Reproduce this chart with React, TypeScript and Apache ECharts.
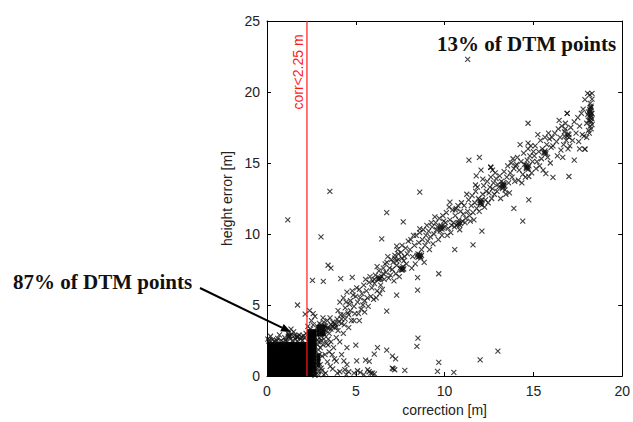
import React, { useEffect, useRef } from "react";
import * as echarts from "echarts";

// ---- data ----
const xTicks = [0, 5, 10, 15, 20];
const yTicks = [0, 5, 10, 15, 20, 25];
const threshold = 2.25;
const thresholdLabel = "corr<2.25 m";
const textUpper = "13% of DTM points";
const textLower = "87% of DTM points";
const xName = "correction [m]";
const yName = "height error [m]";

// saturated (solid black) regions of overlapping points: [[x0,y0],[x1,y1]]
const denseBlocks: [number, number][][] = [
  [[0, 0], [2.25, 2.4]],
  [[2.25, 0], [2.8, 3.3]],
  [[2.8, 2.8], [3.3, 3.6]],
  [[2.8, 0.6], [3.0, 1.6]],
];

const nearOriginPoints: [number, number][] = [
  [0.1, 2.45], [0.3, 2.55], [0.5, 2.4], [0.6, 2.65], [0.8, 2.5], [1.0, 2.7], [1.1, 2.45], [1.3, 2.6],
  [1.5, 3.1], [1.6, 2.6], [1.8, 2.9], [2.0, 2.5], [2.1, 2.7], [0.2, 2.8], [0.9, 2.4], [1.4, 2.9],
  [1.7, 2.45], [2.2, 3.0], [0.4, 2.45], [1.2, 3.0], [1.55, 2.85], [1.9, 2.6], [1.35, 3.3], [0.7, 2.9],
  [1.22, 2.9], [1.67, 2.8], [1.25, 2.75], [2.05, 2.85], [0.05, 2.6], [1.2, 2.8], [1.28, 2.85],
  [1.7, 2.7], [1.75, 2.75], [0.15, 2.55], [0.55, 2.5], [1.05, 2.5], [1.45, 2.5], [1.95, 2.75],
  [2.9, 0.3], [3.0, 0.8], [3.1, 1.4], [3.0, 2.0], [3.2, 2.6], [3.1, 3.3], [2.95, 3.7], [3.3, 0.2],
  [3.4, 1.0], [3.5, 1.7], [3.35, 2.3], [3.5, 3.0], [3.6, 3.6], [3.4, 3.9], [3.7, 0.5], [3.8, 1.2],
  [3.75, 2.0], [3.9, 2.7], [3.8, 3.4], [3.95, 4.0], [4.0, 3.2], [4.1, 0.3], [4.2, 1.5], [4.1, 2.4],
  [4.3, 3.0], [4.2, 3.7], [4.3, 4.3], [4.5, 0.8], [4.5, 2.0], [4.6, 3.4], [4.4, 4.0], [4.7, 4.6],
  [4.9, 3.9], [2.6, 3.6], [2.5, 3.9], [2.7, 4.2], [2.85, 3.45], [3.15, 4.1], [3.25, 3.55], [2.4, 4.6],
  [2.6, 4.4], [3.05, 2.5], [3.44, 2.17], [3.9, 1.05], [4.33, 1.07], [5.05, 1.07], [5.55, 1.12],
  [5.67, 0.44], [5.1, 0.37], [4.38, 0.44], [3.56, 0.68], [3.05, 0.56], [2.7, 0.05], [3.27, 1.5],
  [3.67, 1.5], [5.94, 0.2], [5.45, 0.1], [4.46, 0.1], [3.96, 0.2], [2.8, 1.37], [2.9, 1.84],
  [2.85, 2.2], [2.9, 3.0], [3.0, 3.5], [2.95, 2.7], [2.85, 2.55], [2.8, 0.9], [3.2, 3.8],
  [3.3, 3.2], [3.5, 3.35], [3.7, 3.8], [3.55, 4.1], [3.85, 3.65], [2.3, 3.5], [2.45, 3.3],
  [4.6, 0.3], [5.25, 0.25], [5.75, 0.3], [6.05, 0.15], [4.9, 0.2], [3.2, 0.1],
  [2.9, 3.3], [2.95, 3.4], [3.0, 3.2], [3.05, 3.6], [3.1, 3.45], [3.2, 3.3], [3.3, 3.5], [3.4, 3.4],
  [3.6, 3.3], [3.7, 3.5], [3.8, 3.7], [3.9, 3.45], [2.9, 1.0], [2.95, 1.5], [2.9, 2.4], [3.0, 2.9],
  [2.85, 0.5], [2.9, 0.1], [3.1, 0.4], [3.15, 2.2], [3.25, 2.9], [3.45, 2.6], [3.6, 2.4],
];

const bandPoints: [number, number][] = [
  [4.0, 4.6], [4.1, 5.2], [4.2, 4.0], [4.3, 5.5], [4.4, 4.8], [4.5, 5.9], [4.6, 4.3], [4.7, 5.3],
  [4.8, 6.0], [4.9, 4.9], [5.0, 5.6], [4.35, 3.6], [4.55, 4.45], [4.75, 3.9], [4.85, 5.7], [4.15, 4.3],
  [4.65, 5.05], [4.95, 4.4], [4.45, 5.2], [4.05, 3.8],
  [5.1, 5.2], [5.2, 6.1], [5.3, 4.7], [5.35, 5.8], [5.45, 6.4], [5.5, 5.3], [5.6, 6.0], [5.7, 4.9],
  [5.75, 6.6], [5.85, 5.6], [5.9, 6.2], [6.0, 5.4], [5.15, 4.4], [5.25, 5.5], [5.55, 6.8], [5.65, 5.5],
  [5.05, 6.2], [5.4, 5.0], [5.8, 7.0], [5.95, 6.7], [5.5, 4.5], [5.2, 3.9],
  [6.05, 6.5], [6.1, 7.1], [6.2, 6.0], [6.25, 6.8], [6.3, 7.4], [6.4, 6.4], [6.45, 7.0], [6.55, 7.6],
  [6.6, 6.8], [6.7, 7.3], [6.75, 8.0], [6.85, 6.9], [6.9, 7.6], [7.0, 8.2], [6.15, 5.5], [6.35, 5.8],
  [6.5, 6.1], [6.65, 7.9], [6.95, 7.1], [6.2, 7.7], [6.8, 8.4], [6.05, 6.8], [6.55, 7.2],
  [7.05, 7.5], [7.1, 8.0], [7.2, 8.5], [7.25, 7.2], [7.3, 7.8], [7.35, 8.9], [7.4, 8.2], [7.5, 7.6],
  [7.55, 8.7], [7.6, 9.2], [7.7, 8.1], [7.75, 8.4], [7.8, 9.0], [7.9, 8.6], [7.95, 9.5], [7.15, 6.7],
  [7.45, 7.0], [7.65, 7.5], [7.85, 7.9], [7.2, 8.3], [7.4, 8.6], [7.3, 8.1], [7.6, 8.3],
  [8.05, 8.9], [8.1, 9.6], [8.2, 8.4], [8.3, 9.2], [8.4, 9.9], [8.45, 8.5], [8.5, 8.35], [8.55, 9.4],
  [8.6, 10.1], [8.7, 8.9], [8.75, 9.6], [8.8, 10.3], [8.9, 9.2], [8.95, 9.9], [9.0, 10.6], [8.15, 7.6],
  [8.35, 7.9], [8.65, 8.3], [8.85, 8.0], [8.5, 8.6], [8.6, 8.45], [8.25, 9.9],
  [9.05, 9.5], [9.1, 10.2], [9.2, 9.8], [9.3, 10.5], [9.4, 10.0], [9.5, 10.8], [9.55, 10.3], [9.6, 10.5],
  [9.7, 11.1], [9.75, 10.2], [9.8, 10.6], [9.9, 11.3], [10.0, 10.5], [9.15, 8.9], [9.35, 9.3], [9.65, 9.6],
  [9.85, 9.9], [9.25, 10.8], [9.95, 10.9], [9.45, 11.2],
  [10.05, 10.8], [10.1, 11.5], [10.2, 10.4], [10.3, 11.0], [10.4, 10.6], [10.45, 11.7], [10.5, 10.8],
  [10.6, 11.3], [10.7, 10.6], [10.75, 12.0], [10.8, 11.0], [10.9, 11.6], [11.0, 10.9], [10.15, 9.9],
  [10.35, 10.1], [10.55, 10.5], [10.85, 10.3], [10.65, 11.8], [10.95, 12.2], [10.25, 11.9],
  [11.05, 11.4], [11.1, 12.0], [11.2, 11.1], [11.3, 11.6], [11.35, 12.4], [11.4, 11.3], [11.5, 12.0],
  [11.55, 12.7], [11.6, 11.5], [11.7, 12.2], [11.75, 13.0], [11.8, 11.8], [11.9, 12.5], [12.0, 12.2],
  [11.15, 10.8], [11.45, 10.9], [11.65, 11.0], [11.85, 13.3], [11.25, 12.8], [11.95, 11.6], [12.05, 12.25],
  [12.1, 12.4],
  [12.15, 12.8], [12.2, 13.4], [12.3, 12.4], [12.35, 13.0], [12.4, 13.7], [12.5, 12.9], [12.55, 13.3],
  [12.6, 14.0], [12.7, 13.2], [12.75, 13.6], [12.8, 12.8], [12.9, 13.9], [13.0, 13.5], [12.25, 11.9],
  [12.45, 12.2], [12.65, 12.5], [12.85, 14.3], [12.95, 13.0], [12.6, 14.7], [12.7, 14.5], [12.05, 14.5],
  [13.05, 13.3], [13.1, 14.1], [13.2, 13.7], [13.3, 13.5], [13.35, 14.4], [13.4, 13.1], [13.5, 14.0],
  [13.55, 14.8], [13.6, 13.6], [13.7, 14.3], [13.75, 15.0], [13.8, 14.0], [13.9, 14.6], [14.0, 14.8],
  [13.15, 12.5], [13.45, 12.8], [13.65, 12.9], [13.85, 15.3], [13.25, 13.2], [13.3, 13.4], [13.95, 13.7],
  [14.05, 14.9], [14.1, 15.4], [14.2, 14.5], [14.3, 15.1], [14.4, 14.2], [14.45, 15.7], [14.5, 14.9],
  [14.6, 14.7], [14.65, 15.2], [14.7, 16.0], [14.75, 14.8], [14.8, 15.5], [14.9, 14.3], [15.0, 15.8],
  [14.15, 13.8], [14.35, 13.6], [14.55, 14.0], [14.7, 14.65], [14.74, 14.05], [14.85, 16.2], [14.95, 15.1],
  [14.25, 16.3],
  [15.05, 15.5], [15.1, 16.2], [15.2, 15.1], [15.3, 15.8], [15.4, 16.6], [15.45, 15.3], [15.5, 16.0],
  [15.6, 15.7], [15.65, 16.8], [15.7, 15.75], [15.75, 16.3], [15.8, 15.4], [15.9, 16.7], [16.0, 16.1],
  [15.15, 14.6], [15.35, 14.8], [15.55, 14.5], [15.7, 14.25], [15.85, 17.1], [15.25, 17.0], [15.95, 15.0],
  [16.05, 16.8], [16.1, 16.2], [16.2, 17.1], [16.3, 16.5], [16.4, 17.4], [16.5, 16.8], [16.55, 15.9],
  [16.6, 17.6], [16.7, 16.3], [16.75, 17.2], [16.8, 17.4], [16.85, 16.6], [16.9, 18.5], [17.0, 17.0],
  [16.1, 13.98], [16.35, 15.5], [16.65, 15.4], [16.95, 16.0], [16.45, 18.0], [16.8, 17.8], [16.75, 16.9],
  [17.05, 16.2], [17.1, 17.5], [17.2, 16.6], [17.3, 17.9], [17.4, 17.1], [17.5, 18.2], [17.55, 16.5],
  [17.6, 17.6], [17.7, 18.5], [17.75, 17.0], [17.8, 18.8], [17.85, 16.9], [17.9, 19.47], [17.9, 15.97],
  [18.0, 17.8], [18.05, 18.4], [18.1, 18.0], [18.15, 18.3], [18.17, 18.77], [18.17, 19.8], [18.2, 17.6],
  [18.25, 18.9], [18.3, 19.9], [18.2, 19.2], [18.1, 17.3], [18.25, 17.9], [18.3, 18.5], [18.15, 17.1],
  [18.2, 18.6], [18.3, 19.5], [18.05, 19.9], [17.0, 14.05], [17.3, 15.2], [17.6, 16.0], [18.0, 16.8],
  [18.2, 18.2], [18.25, 17.4], [18.3, 18.1], [18.2, 18.9], [18.3, 17.7], [18.1, 18.6],
];

// tight clumps that print as black blobs in the reference
const clumpPoints: [number, number][] = [
  [6.3, 6.8], [6.35, 6.85], [6.3, 6.95], [6.4, 6.9],
  [7.55, 7.5], [7.6, 7.6], [7.6, 7.45], [7.65, 7.7], [7.7, 7.55],
  [8.55, 8.45], [8.6, 8.55], [8.65, 8.4], [8.7, 8.5],
  [9.75, 10.4], [9.8, 10.5], [9.85, 10.35], [9.9, 10.45],
  [10.75, 10.7], [10.8, 10.8], [10.85, 10.65], [10.9, 10.75],
  [12.0, 12.1], [12.05, 12.2], [12.1, 12.05], [12.0, 12.35],
  [13.25, 13.4], [13.3, 13.3], [13.35, 13.45], [13.3, 13.6],
  [14.6, 14.6], [14.65, 14.75], [14.7, 14.55], [14.6, 14.85],
  [15.6, 15.75], [15.65, 15.85], [15.7, 15.65],
  [16.9, 16.9], [16.95, 17.05], [17.0, 16.8],
  [18.2, 18.4], [18.25, 18.5], [18.2, 18.7], [18.25, 18.3], [18.2, 18.0], [18.25, 19.0],
];

const upperOutliers: [number, number][] = [
  [11.3, 22.3], [1.17, 11.0], [1.72, 5.0], [2.15, 4.36], [3.54, 13.0], [8.6, 12.95], [3.04, 9.8],
  [2.56, 6.74], [3.17, 6.67], [3.44, 7.8], [3.6, 7.6], [4.15, 6.86], [4.8, 6.95], [6.74, 11.5],
  [7.67, 10.85], [8.6, 10.36], [6.46, 9.66], [7.3, 9.14], [10.3, 12.25], [10.6, 11.7], [14.7, 17.8],
  [14.7, 16.4], [14.74, 12.4], [14.4, 10.9], [11.6, 9.24], [9.67, 7.2], [10.57, 8.9], [12.1, 10.2],
  [13.9, 11.8], [8.48, 6.05], [7.3, 5.7], [6.74, 4.57], [8.48, 6.93], [11.37, 15.2], [11.96, 15.4],
  [11.78, 14.1], [11.74, 13.45], [12.15, 13.87], [12.6, 14.7], [16.9, 18.5], [17.9, 15.97],
];

const lowerOutliers: [number, number][] = [
  [8.5, 2.66], [8.44, 2.08], [6.22, 2.0], [6.04, 1.54], [6.74, 1.82], [7.06, 1.4], [7.24, 1.21],
  [7.1, 0.51], [7.76, 0.4], [9.67, 0.96], [9.6, 0.33], [10.52, 0.26], [5.76, 1.03], [5.85, 0.2],
  [13.0, 1.75], [12.0, 1.14], [5.0, 2.17], [7.05, 0.56], [7.19, 0.44],
];

const allPoints = [...nearOriginPoints, ...bandPoints, ...clumpPoints, ...upperOutliers, ...lowerOutliers];
const thresholdLine: [number, number][] = [[threshold, yTicks[0]], [threshold, yTicks[yTicks.length - 1]]];

const AXIS_COLOR = "#000";
const LABEL_FONT = "'Liberation Sans', Arial, sans-serif";
const SERIF = "'Liberation Serif', 'Times New Roman', serif";

function makeXAxis(position: "bottom" | "top", showLabel: boolean) {
  return {
    type: "value" as const,
    position,
    min: xTicks[0],
    max: xTicks[xTicks.length - 1],
    interval: xTicks[1] - xTicks[0],
    name: showLabel ? xName : "",
    nameLocation: "middle" as const,
    nameGap: 27,
    nameTextStyle: { fontFamily: LABEL_FONT, fontSize: 14, color: "#222" },
    axisLine: { show: true, onZero: false, lineStyle: { color: AXIS_COLOR, width: 1 } },
    axisTick: { show: true, inside: true, length: 4, lineStyle: { color: AXIS_COLOR } },
    axisLabel: { show: showLabel, margin: 8, fontFamily: LABEL_FONT, fontSize: 14, color: "#222" },
    splitLine: { show: false },
  };
}

function makeYAxis(position: "left" | "right", showLabel: boolean) {
  return {
    type: "value" as const,
    position,
    min: yTicks[0],
    max: yTicks[yTicks.length - 1],
    interval: yTicks[1] - yTicks[0],
    name: showLabel ? yName : "",
    nameLocation: "middle" as const,
    nameGap: 30,
    nameTextStyle: { fontFamily: LABEL_FONT, fontSize: 14, color: "#222" },
    axisLine: { show: true, onZero: false, lineStyle: { color: AXIS_COLOR, width: 1 } },
    axisTick: { show: true, inside: true, length: 4, lineStyle: { color: AXIS_COLOR } },
    axisLabel: { show: showLabel, margin: 7, fontFamily: LABEL_FONT, fontSize: 14, color: "#222" },
    splitLine: { show: false },
  };
}

export default function App() {
  const ref = useRef<HTMLDivElement>(null);
  useEffect(() => {
    if (!ref.current) return;
    const chart = echarts.init(ref.current, null, { renderer: "svg" });
    // arrow geometry (annotation layout)
    const ax0 = 200, ay0 = 288, ax1 = 291, ay1 = 332;
    const dx = ax1 - ax0, dy = ay1 - ay0;
    const len = Math.sqrt(dx * dx + dy * dy);
    const ux = dx / len, uy = dy / len;
    const hl = 10, hw = 4;
    const bx = ax1 - ux * hl, by = ay1 - uy * hl;
    chart.setOption({
      animation: false,
      backgroundColor: "#fff",
      grid: { left: 267, right: 7, top: 21, bottom: 43, containLabel: false },
      xAxis: [makeXAxis("bottom", true), makeXAxis("top", false)],
      yAxis: [makeYAxis("left", true), makeYAxis("right", false)],
      series: [
        {
          type: "scatter",
          xAxisIndex: 0,
          yAxisIndex: 0,
          data: allPoints,
          symbol: "path://M0,0L10,10M0,10L10,0",
          symbolSize: 5,
          itemStyle: { color: "rgba(0,0,0,0)", borderColor: "#111", borderWidth: 1.1 },
          silent: true,
          z: 3,
          markArea: {
            silent: true,
            itemStyle: { color: "#000", borderWidth: 0 },
            label: { show: false },
            data: denseBlocks.map((b) => [{ coord: b[0] }, { coord: b[1] }]),
          },
        },
        {
          type: "line",
          xAxisIndex: 0,
          yAxisIndex: 0,
          data: thresholdLine,
          showSymbol: false,
          symbol: "none",
          silent: true,
          z: 5,
          lineStyle: { color: "#ff1a1a", width: 1.2 },
          itemStyle: { color: "#ff1a1a" },
        },
      ],
      graphic: [
        {
          type: "text",
          x: 298,
          y: 72,
          rotation: Math.PI / 2,
          style: {
            text: thresholdLabel,
            font: `14px ${LABEL_FONT}`,
            fill: "#ff1a1a",
            align: "center",
            verticalAlign: "middle",
          },
        },
        {
          type: "text",
          left: 437,
          top: 33,
          style: { text: textUpper, font: `bold 21px ${SERIF}`, fill: "#111" },
        },
        {
          type: "text",
          left: 13,
          top: 271,
          style: { text: textLower, font: `bold 21px ${SERIF}`, fill: "#111" },
        },
        {
          type: "line",
          shape: { x1: ax0, y1: ay0, x2: bx, y2: by },
          style: { stroke: "#000", lineWidth: 2 },
        },
        {
          type: "polygon",
          shape: {
            points: [
              [ax1, ay1],
              [bx - uy * hw, by + ux * hw],
              [bx + uy * hw, by - ux * hw],
            ],
          },
          style: { fill: "#000" },
        },
      ],
    });
    return () => chart.dispose();
  }, []);
  return (
    <div
      ref={ref}
      style={{ position: "absolute", left: 0, top: 0, width: 633, height: 422, background: "#fff" }}
    />
  );
}
